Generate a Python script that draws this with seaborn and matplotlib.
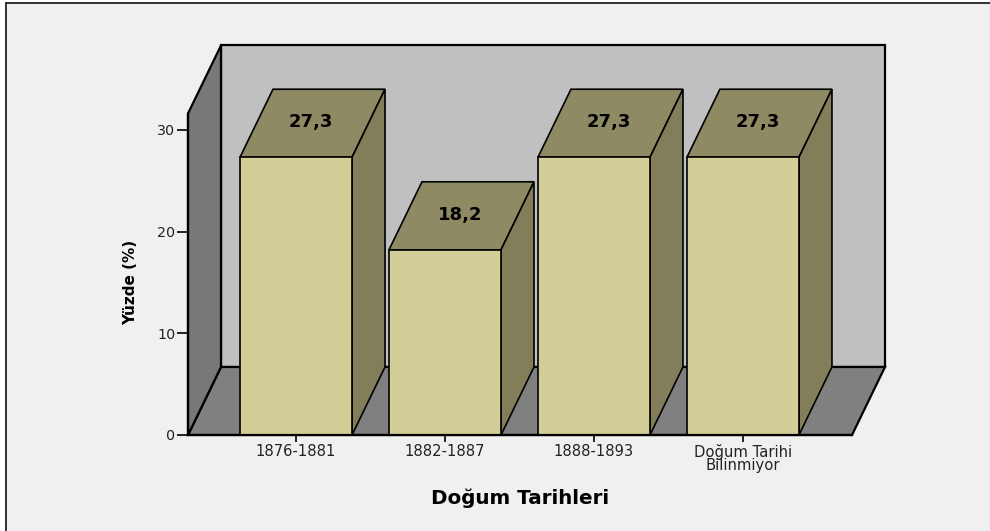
# bar chart of birth dates, drawn with a fake 3D box look
import matplotlib
matplotlib.use('Agg')
import matplotlib.pyplot as plt
from matplotlib.patches import Polygon, Rectangle
from matplotlib.lines import Line2D
import pandas as pd
import seaborn as sns

# the data
categories = ['1876-1881', '1882-1887', '1888-1893', 'Doğum Tarihi\nBilinmiyor']
values = [27.3, 18.2, 27.3, 27.3]
value_labels = ['27,3', '18,2', '27,3', '27,3']
y_ticks = [0, 10, 20, 30]

# colours
bg_color = '#F0F0F0'
wall_color = '#C0C0C0'
left_wall_color = '#787878'
floor_color = '#808080'
front_color = '#D3CE97'
top_color = '#8E8A63'
side_color = '#827E5A'

# depth of the fake 3D in data units
depth_x = 33 / 149
depth_y = 68 / 10.17
x_min, x_max = -0.725, 3.732
y_max = 31.6

sns.set_theme(style='ticks')
plt.rcParams['font.family'] = ['DejaVu Sans']

df = pd.DataFrame({'period': categories, 'percent': values})

fig = plt.figure(figsize=(9.9, 5.31), dpi=100, facecolor='white')
ax = fig.add_axes([188 / 990, (531 - 435) / 531, 664 / 990, 321.5 / 531])
ax.set_facecolor(floor_color)

# panel background and its border on the top and left only
fig.patches.append(Rectangle((5.5 / 990, 0), 1, 1 - 2.5 / 531, transform=fig.transFigure, facecolor=bg_color, edgecolor='none', zorder=-10))
fig.add_artist(Line2D([5.5 / 990, 5.5 / 990], [0, 1 - 2.5 / 531], color='#222222', lw=1.3))
fig.add_artist(Line2D([5.5 / 990, 1], [1 - 2.5 / 531, 1 - 2.5 / 531], color='#222222', lw=1.3))

sns.barplot(data=df, x='period', y='percent', color=front_color, saturation=1, width=0.752,
            edgecolor='black', linewidth=1.2, ax=ax, zorder=3)

ax.set_xlim(x_min, x_max)
ax.set_ylim(0, y_max)

# walls and floor
edge = dict(edgecolor='black', clip_on=False)
floor = [(x_min, 0), (x_max, 0), (x_max + depth_x, depth_y), (x_min + depth_x, depth_y)]
ax.add_patch(Polygon(floor, facecolor=floor_color, lw=1.6, zorder=1, **edge))
ax.add_patch(Rectangle((x_min + depth_x, depth_y), x_max - x_min, y_max, facecolor=wall_color, lw=1.6, zorder=0.9, **edge))
left_wall = [(x_min, 0), (x_min + depth_x, depth_y), (x_min + depth_x, y_max + depth_y), (x_min, y_max)]
ax.add_patch(Polygon(left_wall, facecolor=left_wall_color, lw=1.6, zorder=1.1, **edge))

# top and side of each bar, taken from the bars seaborn made
for bar, label in zip(ax.patches[:len(values)], value_labels):
    x0 = bar.get_x()
    x1 = x0 + bar.get_width()
    h = bar.get_height()
    top = [(x0, h), (x1, h), (x1 + depth_x, h + depth_y), (x0 + depth_x, h + depth_y)]
    side = [(x1, 0), (x1 + depth_x, depth_y), (x1 + depth_x, h + depth_y), (x1, h)]
    ax.add_patch(Polygon(top, facecolor=top_color, lw=1.2, zorder=2, **edge))
    ax.add_patch(Polygon(side, facecolor=side_color, lw=1.2, zorder=2, **edge))
    ax.text((x0 + x1) / 2 + depth_x / 2 - 0.01, h + depth_y / 2 + 0.12, label, ha='center', va='center',
            fontsize=13, fontweight='bold', color='black', zorder=5)

# axes and labels
sns.despine(ax=ax)
for side_name in ['left', 'bottom']:
    ax.spines[side_name].set_linewidth(1.6)
    ax.spines[side_name].set_color('black')
    ax.spines[side_name].set_zorder(6)
ax.set_yticks(y_ticks)
ax.tick_params(axis='y', length=8, width=1.2, color='black', pad=1, labelsize=10.3, labelcolor='#222222')
ax.tick_params(axis='x', length=5, width=1.2, color='black', pad=1.5, labelsize=10.6, labelcolor='#222222')
for t in ax.get_xticklabels():
    t.set_linespacing(0.8)

ax.set_xlabel('Doğum Tarihleri', fontsize=14.3, fontweight='bold', color='black', labelpad=0)
ax.xaxis.set_label_coords((520 - 188) / 664, -(489 - 435) / 321.5)
ax.set_ylabel('Yüzde (%)', fontsize=11, fontweight='bold', color='black')
ax.yaxis.set_label_coords((138 - 188) / 664, (435 - 282) / 321.5)

fig.savefig('out.png', dpi=100, facecolor=fig.get_facecolor())
